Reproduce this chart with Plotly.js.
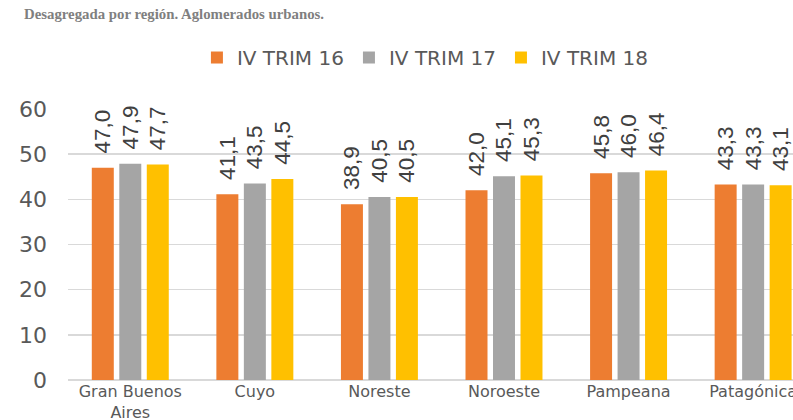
<!DOCTYPE html>
<html><head><meta charset="utf-8">
<script src="https://cdn.plot.ly/plotly-3.0.1.min.js"></script>
<style>html,body{margin:0;padding:0;background:#fff}#chart{width:793px;height:420px}</style>
</head><body><div id="chart"></div>
<script>
const categories = ["Gran Buenos<br>Aires", "Cuyo", "Noreste", "Noroeste", "Pampeana", "Patagónica"];
const seriesNames = ["IV TRIM 16", "IV TRIM 17", "IV TRIM 18"];
const trim16 = [47.0, 41.1, 38.9, 42.0, 45.8, 43.3];
const trim17 = [47.9, 43.5, 40.5, 45.1, 46.0, 43.3];
const trim18 = [47.7, 44.5, 40.5, 45.3, 46.4, 43.1];
const colors = ["#ED7D31", "#A5A5A5", "#FFC000"];
const values = [trim16, trim17, trim18];

const traces = values.map((v, i) => ({
  type: "bar",
  name: seriesNames[i],
  x: categories,
  y: v,
  marker: {color: colors[i], line: {width: 0}},
  text: v.map(n => "\u2002" + n.toFixed(1).replace(".", ",")),
  textposition: "outside",
  textangle: -90,
  constraintext: "none",
  cliponaxis: false,
  textfont: {family: "Liberation Sans, Arial, sans-serif", size: 22.5, color: "#404040"},
  hoverinfo: "none"
}));

const layout = {
  width: 793, height: 420,
  margin: {l: 68, r: 0, t: 109, b: 40},
  paper_bgcolor: "#fff", plot_bgcolor: "#fff",
  separators: ",.",
  barmode: "group",
  bargap: 0.338,
  bargroupgap: 0.2,
  title: {
    text: "<b>Desagregada por región. Aglomerados urbanos.</b>",
    xref: "container", yref: "container",
    x: 24/793, xanchor: "left", y: 1 - 14/420, yanchor: "middle",
    font: {family: "Liberation Serif, serif", size: 14.8, color: "#7F7F7F"}
  },
  showlegend: true,
  legend: {
    orientation: "h", x: 0.493, xanchor: "center", y: 1.19, yanchor: "middle",
    font: {family: "DejaVu Sans, sans-serif", size: 20, color: "#595959"},
    itemwidth: 30, traceorder: "normal"
  },
  xaxis: {
    type: "category",
    range: [-0.5, 5.32],
    showgrid: false, showline: false, zeroline: false,
    ticks: "",
    tickfont: {family: "DejaVu Sans, sans-serif", size: 16, color: "#595959"},
    fixedrange: true
  },
  yaxis: {
    range: [0, 60],
    dtick: 10,
    showgrid: true, gridcolor: "#D9D9D9", gridwidth: 1.5,
    zeroline: true, zerolinecolor: "#D9D9D9", zerolinewidth: 1.5,
    showline: false, ticks: "",
    ticklabelstandoff: 20,
    tickfont: {family: "DejaVu Sans, sans-serif", size: 22, color: "#595959"},
    fixedrange: true
  }
};
Plotly.newPlot("chart", traces, layout, {staticPlot: true, displayModeBar: false});
</script>
</body></html>
